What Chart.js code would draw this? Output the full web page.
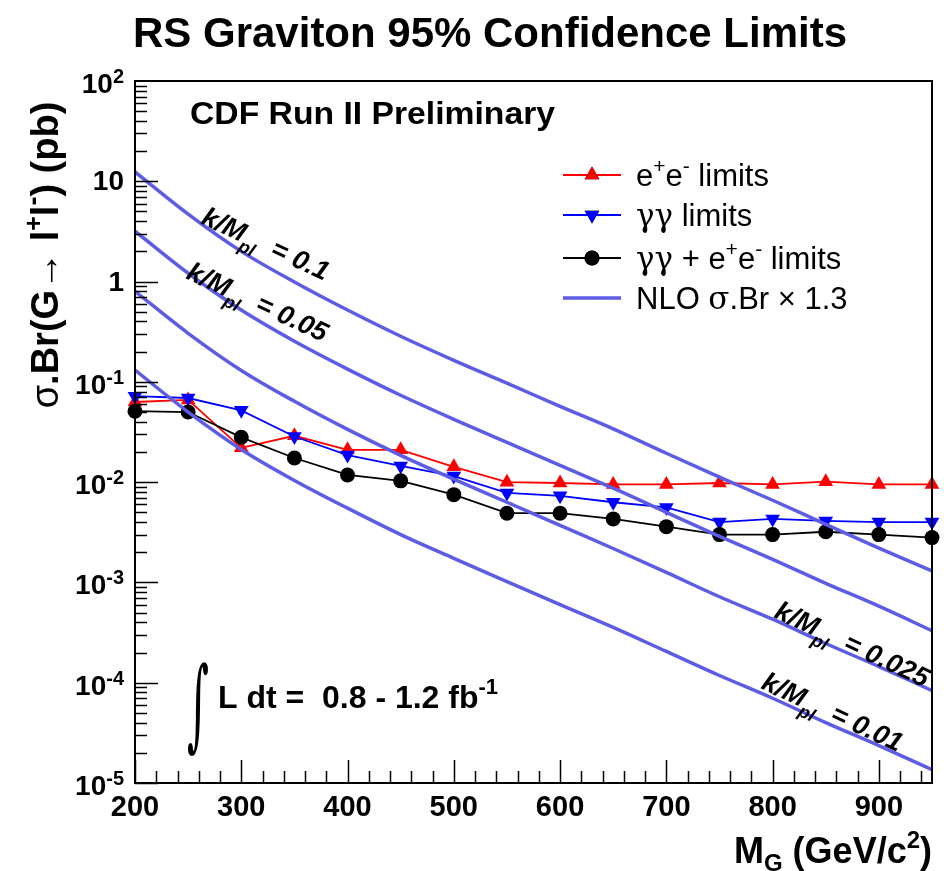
<!DOCTYPE html>
<html lang="en">
<head>
    <meta charset="UTF-8">
    <title>RS Graviton 95% Confidence Limits</title>
    <script src="https://cdn.jsdelivr.net/npm/chart.js"></script>
    <style>
        body { margin: 0; padding: 0; background: #fff; }
        #wrap { width: 944px; height: 871px; }
    </style>
</head>
<body>
    <div id="wrap"><canvas id="limitChart" width="944" height="871"></canvas></div>

    <script>
        // graviton mass points (GeV/c^2)
        const massPoints = [200, 250, 300, 350, 400, 450, 500, 550, 600, 650, 700, 750, 800, 850, 900, 950];

        // 95% CL limits on sigma.Br (pb)
        const eeLimits   = [0.063, 0.066, 0.022, 0.029, 0.021, 0.021, 0.0142, 0.0100, 0.0098, 0.0095, 0.0095, 0.0098, 0.0095, 0.0101, 0.0095, 0.0095];
        const ggLimits   = [0.072, 0.069, 0.052, 0.0285, 0.0186, 0.0145, 0.0115, 0.0078, 0.0073, 0.0063, 0.0056, 0.0040, 0.0043, 0.0041, 0.0040, 0.0040];
        const combLimits = [0.051, 0.050, 0.028, 0.0174, 0.0118, 0.0103, 0.0075, 0.0049, 0.0049, 0.0043, 0.0036, 0.0030, 0.0030, 0.0032, 0.0030, 0.0028];

        // NLO sigma.Br x 1.3 for k/Mpl = 0.1, 0.05, 0.025, 0.01
        const nlo0100 = [12.4, 4.7, 2.0, 0.99, 0.52, 0.285, 0.164, 0.097, 0.057, 0.034, 0.0194, 0.0112, 0.0066, 0.0038, 0.0022, 0.0013];
        const nlo0050 = [3.18, 1.21, 0.52, 0.254, 0.134, 0.0735, 0.0423, 0.0249, 0.0147, 0.0087, 0.0050, 0.00288, 0.0017, 0.00098, 0.00058, 0.00033];
        const nlo0025 = [0.80, 0.305, 0.130, 0.064, 0.0336, 0.0185, 0.0107, 0.0063, 0.0037, 0.00218, 0.00126, 0.00072, 0.00043, 0.000246, 0.000145, 0.0000835];
        const nlo0010 = [0.131, 0.050, 0.0212, 0.0104, 0.0055, 0.0030, 0.00174, 0.00102, 0.0006, 0.000356, 0.000205, 0.000118, 0.00007, 0.00004, 0.0000236, 0.0000136];

        // axis tick labels
        const xTickLabels = [200, 300, 400, 500, 600, 700, 800, 900];
        const yTickExponents = [-5, -4, -3, -2, -1, 0, 1, 2];

        const nloColor = 'rgb(92,92,228)';
        const FONT = '"Liberation Sans", Arial, Helvetica, sans-serif';
        const SYM = '"DejaVu Serif", serif';

        function pts(vals) {
            return massPoints.map((m, i) => ({ x: m, y: vals[i] }));
        }

        function nloSet(vals) {
            return {
                data: pts(vals), borderColor: nloColor, borderWidth: 3.5,
                pointRadius: 0, cubicInterpolationMode: 'monotone', order: 1
            };
        }

        // draw a run of text pieces: [text, font, dy]
        function drawParts(ctx, parts, x, y, align) {
            let total = 0;
            parts.forEach(p => { ctx.font = p[1]; total += ctx.measureText(p[0]).width; });
            let cx = x;
            if (align === 'right') cx = x - total;
            if (align === 'center') cx = x - total / 2;
            parts.forEach(p => {
                ctx.font = p[1];
                ctx.fillText(p[0], cx, y + (p[2] || 0));
                cx += ctx.measureText(p[0]).width;
            });
            return total;
        }

        // text squeezed/stretched to a given width
        function fitText(ctx, text, font, x, y, width) {
            ctx.save();
            ctx.font = font;
            const w = ctx.measureText(text).width;
            ctx.translate(x, y);
            ctx.scale(width / w, 1);
            ctx.fillText(text, 0, 0);
            ctx.restore();
        }

        const decorPlugin = {
            id: 'decor',
            afterDatasetsDraw(chart) {
                const ctx = chart.ctx;
                const area = chart.chartArea;
                const xs = chart.scales.x, ys = chart.scales.y;
                ctx.save();
                ctx.fillStyle = '#000';
                ctx.strokeStyle = '#000';
                ctx.textBaseline = 'alphabetic';
                ctx.textAlign = 'left';

                // frame
                ctx.lineWidth = 2;
                ctx.strokeRect(area.left, area.top, area.right - area.left, area.bottom - area.top);

                // y ticks (inside, on the left)
                ctx.lineWidth = 1.5;
                ctx.beginPath();
                for (let e = -5; e <= 1; e++) {
                    for (let m = 1; m <= 9; m++) {
                        const py = Math.round(ys.getPixelForValue(m * Math.pow(10, e))) + 0.5;
                        ctx.moveTo(area.left, py);
                        ctx.lineTo(area.left + (m === 1 ? 23 : 12), py);
                    }
                }
                // x ticks (inside, at bottom)
                for (let v = 200; v <= 940; v += 20) {
                    const px = Math.round(xs.getPixelForValue(v)) + 0.5;
                    ctx.moveTo(px, area.bottom);
                    ctx.lineTo(px, area.bottom - (v % 100 === 0 ? 23 : 12));
                }
                ctx.stroke();

                // y tick labels
                yTickExponents.forEach(e => {
                    const py = ys.getPixelForValue(Math.pow(10, e));
                    if (e === 0) drawParts(ctx, [['1', 'bold 28px ' + FONT]], 124, py + 9, 'right');
                    else if (e === 1) drawParts(ctx, [['10', 'bold 28px ' + FONT]], 124, py + 9, 'right');
                    else drawParts(ctx, [['10', 'bold 28px ' + FONT], [String(e), 'bold 20px ' + FONT, -10]], 124, py + 12, 'right');
                });

                // x tick labels
                xTickLabels.forEach(v => {
                    drawParts(ctx, [[String(v), 'bold 29px ' + FONT]], xs.getPixelForValue(v), 816, 'center');
                });

                // x axis title
                drawParts(ctx, [
                    ['M', 'bold 36px ' + FONT], ['G', 'bold 24px ' + FONT, 8],
                    [' (GeV/c', 'bold 36px ' + FONT], ['2', 'bold 24px ' + FONT, -15],
                    [')', 'bold 36px ' + FONT]
                ], 932, 863, 'right');

                // y axis title
                ctx.save();
                ctx.translate(58, 255);
                ctx.rotate(-Math.PI / 2);
                drawParts(ctx, [
                    ['σ', '38px ' + FONT], ['.Br(G', 'bold 38px ' + FONT], ['→', 'bold 38px ' + FONT],
                    [' l', 'bold 38px ' + FONT], ['+', 'bold 25px ' + FONT, -16],
                    ['l', 'bold 38px ' + FONT], ['-', 'bold 27px ' + FONT, -16],
                    [') (pb)', 'bold 38px ' + FONT]
                ], 0, 0, 'center');
                ctx.restore();

                // title and experiment label, widths as in the original
                fitText(ctx, 'RS Graviton 95% Confidence Limits', 'bold 43px ' + FONT, 133, 47, 714);
                fitText(ctx, 'CDF Run II Preliminary', 'bold 32px ' + FONT, 190, 124, 365);

                // luminosity
                fitText(ctx, '∫', '100px ' + SYM, 187, 738, 22);
                drawParts(ctx, [['L dt =  0.8 - 1.2 fb', 'bold 32px ' + FONT], ['-1', 'bold 22px ' + FONT, -14]], 218, 708, 'left');

                // coupling labels along the curves
                const ang = 25 * Math.PI / 180;
                [['0.1', 200, 223], ['0.05', 185, 278], ['0.025', 773, 617], ['0.01', 760, 688]].forEach(l => {
                    ctx.save();
                    ctx.translate(l[1], l[2]);
                    ctx.rotate(ang);
                    drawParts(ctx, [
                        ['k/M', 'italic bold 27px ' + FONT], ['pl', 'italic bold 18px ' + FONT, 9],
                        ['  = ' + l[0], 'italic bold 27px ' + FONT]
                    ], 0, 0, 'left');
                    ctx.restore();
                });

                // legend
                const F = '31px ' + FONT, S = '21px ' + FONT;
                const legendRows = [
                    { ds: 0, y: 175, parts: [['e', F], ['+', S, -13], ['e', F], ['-', S, -13], [' limits', F]] },
                    { ds: 1, y: 215, parts: [['γγ', '31px ' + SYM], [' limits', F]] },
                    { ds: 2, y: 258, parts: [['γγ', '31px ' + SYM], [' + e', F], ['+', S, -13], ['e', F], ['-', S, -13], [' limits', F]] },
                    { ds: 3, y: 298, parts: [['NLO ', F], ['σ', '31px ' + SYM], ['.Br × 1.3', F]] }
                ];
                legendRows.forEach(r => {
                    const d = chart.data.datasets[r.ds];
                    ctx.save();
                    ctx.strokeStyle = d.borderColor;
                    ctx.lineWidth = d.borderWidth;
                    ctx.beginPath();
                    ctx.moveTo(563, r.y);
                    ctx.lineTo(621, r.y);
                    ctx.stroke();
                    if (d.pointRadius > 0) {
                        Chart.helpers.drawPoint(ctx, {
                            pointStyle: d.pointStyle, rotation: d.rotation || 0,
                            radius: d.pointRadius, borderWidth: 0
                        }, 592, r.y);
                        ctx.fillStyle = d.pointBackgroundColor;
                        ctx.fill();
                    }
                    ctx.restore();
                    ctx.fillStyle = '#000';
                    drawParts(ctx, r.parts, 636, r.y + 11, 'left');
                });

                ctx.restore();
            }
        };

        new Chart(document.getElementById('limitChart'), {
            type: 'line',
            data: {
                datasets: [
                    {
                        data: pts(eeLimits), borderColor: 'rgb(255,0,0)', borderWidth: 1.8,
                        pointStyle: 'triangle', pointRadius: 8.5, pointBackgroundColor: 'rgb(255,0,0)',
                        pointBorderWidth: 0, tension: 0, clip: false, order: 4
                    },
                    {
                        data: pts(ggLimits), borderColor: 'rgb(0,0,255)', borderWidth: 1.8,
                        pointStyle: 'triangle', rotation: 180, pointRotation: 180, pointRadius: 8.5,
                        pointBackgroundColor: 'rgb(0,0,255)', pointBorderWidth: 0, tension: 0, clip: false, order: 3
                    },
                    {
                        data: pts(combLimits), borderColor: '#000', borderWidth: 1.8,
                        pointStyle: 'circle', pointRadius: 7.5, pointBackgroundColor: '#000',
                        pointBorderWidth: 0, tension: 0, clip: false, order: 2
                    },
                    nloSet(nlo0100),
                    nloSet(nlo0050),
                    nloSet(nlo0025),
                    nloSet(nlo0010)
                ]
            },
            options: {
                responsive: false,
                animation: false,
                devicePixelRatio: 1,
                layout: { padding: { left: 135, right: 12, top: 81, bottom: 88 } },
                scales: {
                    x: { type: 'linear', min: 200, max: 950, display: false },
                    y: { type: 'logarithmic', min: 1e-5, max: 100, display: false }
                },
                plugins: { legend: { display: false }, tooltip: { enabled: false } }
            },
            plugins: [decorPlugin]
        });
    </script>
</body>
</html>
